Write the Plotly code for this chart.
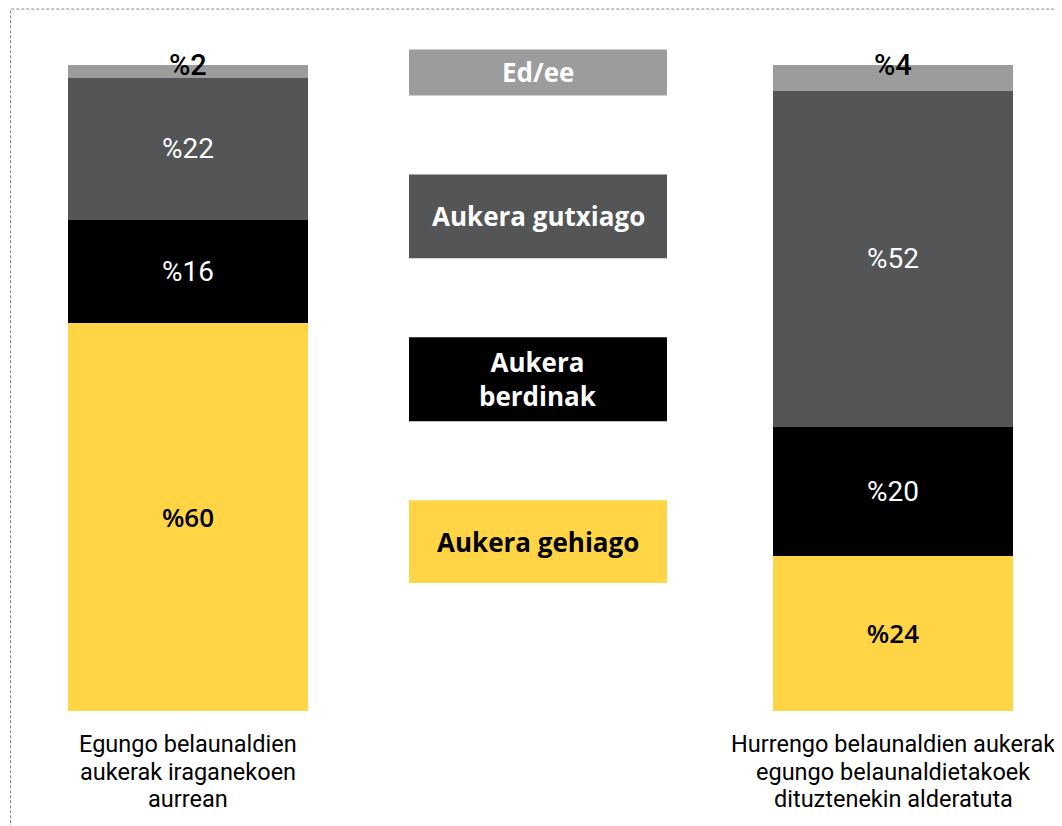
import plotly.graph_objects as go

# ---- data ----
categories = [
    "Egungo belaunaldien<br>aukerak iraganekoen<br>aurrean",
    "Hurrengo belaunaldien aukerak<br>egungo belaunaldietakoek<br>dituztenekin alderatuta",
]
series_names = ["Aukera gehiago", "Aukera berdinak", "Aukera gutxiago", "Ed/ee"]
legend_texts = ["Aukera gehiago", "Aukera<br>berdinak", "Aukera gutxiago", "Ed/ee"]
gehiago = [60, 24]
berdinak = [16, 20]
gutxiago = [22, 52]
edee = [2, 4]
series_values = [gehiago, berdinak, gutxiago, edee]

# ---- styles ----
colors = ["#ffd545", "#000000", "#545557", "#9c9c9d"]
label_colors = ["#000000", "#ffffff", "#ffffff", "#000000"]
W, H = 1062, 826
OFF = 8  # page body offset
MT = 64.5 - OFF
MB = H - (711 - OFF)

fig = go.Figure()
for name, vals, col, lcol in zip(series_names, series_values, colors, label_colors):
    is_top = name == "Ed/ee"
    is_yellow = name == "Aukera gehiago"
    fig.add_trace(go.Bar(
        x=categories, y=vals, name=name,
        marker=dict(color=col, line=dict(width=0)),
        width=0.34,
        text=["%" + str(v) for v in vals],
        textposition="none" if is_top else "inside",
        insidetextanchor="middle",
        textangle=0,
        constraintext="none",
        textfont=dict(color=lcol,
                      size=26 if is_yellow else 28,
                      family="Open Sans" if is_yellow else "Roboto",
                      weight=600 if is_yellow else 400),
        hoverinfo="skip",
    ))

# top (Ed/ee) labels sitting on the top edge of each stack
totals = [sum(v) for v in zip(*series_values)]
annotations = []
for cat, tot, v in zip(categories, totals, edee):
    annotations.append(dict(
        x=cat, y=tot, xref="x", yref="y", text="%" + str(v), showarrow=False,
        yanchor="middle", font=dict(family="Roboto", size=29, color="#000000", weight=500),
    ))

# category labels under the bars (one annotation per line for tight leading)
line_offsets = [33, 60.5, 88]
for cat in categories:
    for i, line in enumerate(cat.split("<br>")):
        annotations.append(dict(
            x=cat, y=0, xref="x", yref="paper", text=line, showarrow=False,
            xanchor="center", yanchor="middle", yshift=-line_offsets[i],
            font=dict(family="Roboto", size=23.5, color="#000000", weight=400),
        ))

# legend boxes in the middle
plot_h = H - MT - MB
def py2paper(py):
    return (H - MB - (py - OFF)) / plot_h

def px2paper(px):
    return (px - OFF) / W

legend_boxes_px = [(500, 583), (337, 421), (174, 258), (49, 95)]
legend_x_px = (409, 667)
shapes = []
for (top, bot), col, txt in zip(legend_boxes_px, colors, legend_texts):
    tcol = "#000000" if col == "#ffd545" else "#ffffff"
    shapes.append(dict(type="rect", xref="paper", yref="paper",
                       x0=px2paper(legend_x_px[0]), x1=px2paper(legend_x_px[1]),
                       y0=py2paper(bot), y1=py2paper(top),
                       fillcolor=col, line=dict(width=0), layer="below"))
    annotations.append(dict(
        x=px2paper((legend_x_px[0] + legend_x_px[1]) / 2), y=py2paper((top + bot) / 2),
        xref="paper", yref="paper", text=txt, showarrow=False,
        xanchor="center", yanchor="middle",
        font=dict(family="Open Sans", size=26, color=tcol, weight=700),
    ))

# dotted frame
shapes.append(dict(type="rect", xref="paper", yref="paper",
                   x0=px2paper(10.5), x1=1.2, y0=-0.5, y1=py2paper(8.5),
                   line=dict(color="#8a8a8a", width=1, dash="3px,2px"),
                   fillcolor="rgba(0,0,0,0)", layer="above"))

# x range: category 0 centre at px 188, category 1 at px 893 (page coords)
u = 893 - 188
c0 = 188 - OFF
fig.update_layout(
    width=W, height=H,
    margin=dict(l=0, r=0, t=MT, b=MB, pad=0),
    barmode="stack",
    showlegend=False,
    plot_bgcolor="white", paper_bgcolor="white",
    xaxis=dict(range=[-c0 / u, (W - c0) / u], showgrid=False, zeroline=False,
               showline=False, ticks="", showticklabels=False),
    yaxis=dict(range=[0, 100], visible=False),
    shapes=shapes,
    annotations=annotations,
)

fig.write_html("out.html")
